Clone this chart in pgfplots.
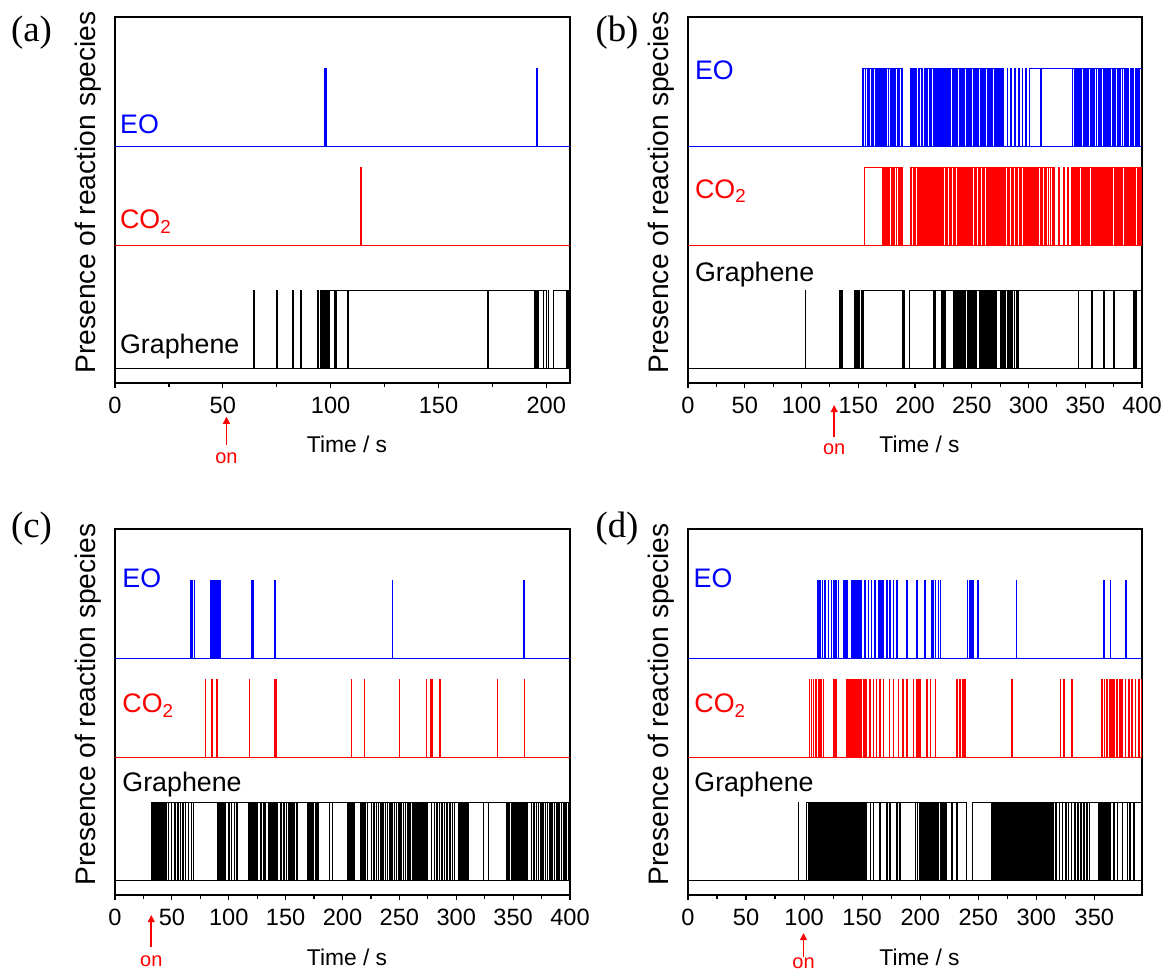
\documentclass[border=0pt]{standalone}
\usepackage{fontspec}
\setmainfont{Liberation Sans}
\newfontfamily\serifpanel{Liberation Serif}
\usepackage{pgfplots}
\pgfplotsset{compat=1.18}
\usetikzlibrary{arrows.meta}
\definecolor{eoblue}{RGB}{0,0,255}
\definecolor{cored}{RGB}{255,0,0}
\pgfplotsset{
  panel/.style={
    scale only axis, height=183pt,
    ymin=0, ymax=366, ytick=\empty,
    xtick pos=left, tick align=outside,
    minor x tick num=1,
    major tick length=2.5pt, minor tick length=1.8pt,
    axis line style={line width=0.6pt},
    every tick/.style={black, line width=0.6pt},
    /pgf/number format/assume math mode=true,
    xticklabel style={font=\fontsize{11.8}{13}\selectfont, yshift=-1.2pt},
    xlabel={Time / s},
    xlabel style={font=\fontsize{11.4}{13}\selectfont, at={(axis description cs:0.51,0)}, anchor=base, yshift=-35pt},
    ylabel={Presence of reaction species},
    ylabel style={font=\fontsize{14.1}{16}\selectfont, at={(axis description cs:-0.058,0.521)}, anchor=center},
    clip=false,
  },
  eo/.style={const plot, line width=0.45pt, color=eoblue, y filter/.expression={237+78*y}},
  co/.style={const plot, line width=0.45pt, color=cored, y filter/.expression={138+78*y}},
  gr/.style={const plot, line width=0.45pt, color=black, y filter/.expression={14.5+78*y}},
}
\tikzset{lab/.style={anchor=base west, inner sep=0pt, font=\fontsize{13.4}{16}\selectfont}}
\newcommand{\onarrow}[4]{%
  \draw[cored, line width=0.9pt, -{Triangle[length=3.6pt,width=3.4pt]}] ([yshift=-#3]axis cs:#1,0) -- ([yshift=-#2]axis cs:#1,0);
  \node[text=cored, font=\fontsize{10}{11}\selectfont, anchor=base, inner sep=0pt] at ([yshift=-#4]axis cs:#1,0) {on};}
\begin{document}
\begin{tikzpicture}
\useasboundingbox (0,0) rectangle (581pt,485pt);
% ---------------- (a)
\begin{axis}[panel, at={(57.5pt,293.5pt)}, anchor=south west, width=227.5pt,
  xmin=0, xmax=211, xtick={0,50,100,150,200}]
\addplot[eo] coordinates {(0,0)(211,0)};
\addplot[eo] coordinates {(0,0)(97.3,1)(97.6,0)(97.9,1)(98.2,0)(195.4,1)(195.8,0)(211,0)};
\addplot[co] coordinates {(0,0)(211,0)};
\addplot[co] coordinates {(0,0)(113.9,1)(114.3,0)(211,0)};
\addplot[gr] coordinates {(0,0)(211,0)};
\addplot[gr] coordinates {(0,0)(64.2,1)(64.5,0)(75.0,1)(75.3,0)(82.4,1)(82.7,0)(86.0,1)(86.3,0)(93.9,1)(94.2,0)(95.4,1)(95.8,0)(96.2,1)(96.5,0)(96.9,1)(97.1,0)(97.5,1)(97.8,0)(98.2,1)(98.4,0)(98.8,1)(99.1,0)(99.5,1)(101.6,0)(101.9,1)(102.4,0)(102.7,1)(108.0,0)(108.3,1)(172.9,0)(173.2,1)(194.4,0)(194.7,1)(195.2,0)(195.5,1)(196.1,0)(196.4,1)(198.5,0)(198.8,1)(200.3,0)(201.0,1)(201.2,0)(203.4,1)(209.4,0)(209.6,1)(209.9,0)(210.3,1)(211,1)};
\node[lab, text=eoblue] at (axis cs:2.2,249.7) {EO};
\node[lab, text=cored] at (axis cs:2.2,154) {CO\textsubscript{2}};
\node[lab, text=black] at (axis cs:2.2,29.7) {Graphene};
\onarrow{51.7}{16.8pt}{31pt}{40.2pt}
\end{axis}
% ---------------- (b)
\begin{axis}[panel, at={(344pt,293.5pt)}, anchor=south west, width=227pt,
  xmin=0, xmax=400, xtick={0,50,...,400}]
\addplot[eo] coordinates {(0,0)(400,0)};
\addplot[eo] coordinates {(0,0)(153.8,1)(154.4,0)(154.8,1)(156.2,0)(156.6,1)(157.9,0)(158.3,1)(159.0,0)(160.1,1)(161.5,0)(162.0,1)(162.9,0)(163.4,1)(164.8,0)(165.2,1)(166.1,0)(166.8,1)(168.0,0)(168.5,1)(169.3,0)(170.1,1)(171.6,0)(172.0,1)(173.2,0)(173.8,1)(174.5,0)(175.0,1)(176.3,0)(176.9,1)(178.1,0)(178.5,1)(179.4,0)(180.0,1)(181.2,0)(181.7,1)(182.5,0)(183.2,1)(184.6,0)(185.1,1)(186.0,0)(186.6,1)(187.8,0)(188.3,1)(189.3,0)
(195.6,1)(196.4,0)(196.9,1)(198.0,0)(198.6,1)(199.2,0)(200.5,1)(201.3,0)(202.8,1)(203.6,0)(204.3,1)(205.5,0)(206.1,1)(206.8,0)(207.9,1)(209.0,0)(209.6,1)(210.4,0)(211.3,1)(212.5,0)(213.0,1)(213.8,0)(214.6,1)(215.9,0)(216.4,1)(217.3,0)(217.9,1)(219.0,0)(219.5,1)(220.6,0)(221.1,1)(221.8,0)(222.4,1)(223.5,0)(224.0,1)(225.2,0)(225.7,1)(226.5,0)(227.1,1)(228.0,0)(228.6,1)(229.7,0)(230.2,1)(231.0,0)(231.6,1)(232.8,0)(233.3,1)(234.1,0)(234.7,1)(235.9,0)(236.4,1)(237.2,0)(237.8,1)(238.9,0)(239.4,1)(240.3,0)(240.9,1)(242.0,0)(242.5,1)(243.3,0)(243.9,1)(245.0,0)(245.5,1)(246.4,0)(247.0,1)(248.1,0)(248.6,1)(249.4,0)(250.0,1)(251.2,0)(251.7,1)(252.5,0)(253.1,1)(254.2,0)(254.7,1)(255.6,0)(256.2,1)(257.3,0)(257.8,1)(258.6,0)(259.2,1)(260.4,0)(260.9,1)(261.7,0)(262.3,1)(263.4,0)(263.9,1)(264.8,0)(265.4,1)(266.5,0)(267.0,1)(267.8,0)(268.4,1)(269.6,0)(270.1,1)(270.9,0)(271.5,1)(272.6,0)(273.1,1)(274.0,0)(274.6,1)(275.7,0)(276.2,1)(277.0,0)(277.6,1)(278.3,0)
(281.2,1)(281.8,0)(284.5,1)(285.0,0)(288.0,1)(288.9,0)(291.5,1)(292.0,0)(294.3,1)(295.0,0)(297.6,1)(298.4,0)(300.5,1)(310.8,0)(311.2,1)
(338.3,0)(339.0,1)(340.1,0)(340.6,1)(341.8,0)(342.3,1)(343.0,0)(343.7,1)(344.9,0)(345.4,1)(346.2,0)(346.9,1)(348.0,0)(348.5,1)(349.3,0)(350.0,1)(351.2,0)(351.7,1)(352.5,0)(353.2,1)(354.4,0)(354.9,1)(355.7,0)(356.4,1)(357.5,0)(358.2,1)(359.6,0)(360.3,1)(361.5,0)(362.4,1)(363.3,0)(364.2,1)(365.6,0)(366.5,1)(367.4,0)(368.3,1)(369.8,0)(370.6,1)(371.5,0)(372.6,1)(374.0,0)(374.8,1)(375.7,0)(376.8,1)(378.1,0)(379.0,1)(379.9,0)(381.0,1)(382.4,0)(383.2,1)(384.1,0)(385.3,1)(386.6,0)(387.5,1)(388.4,0)(389.6,1)(391.0,0)(391.8,1)(392.7,0)(393.9,1)(395.2,0)(396.0,1)(397.1,0)(397.6,1)(400,1)};
\addplot[co] coordinates {(0,0)(400,0)};
\addplot[co] coordinates {(0,0)(155.3,1)(171.5,0)(172.3,1)(173.1,0)(173.8,1)(175.2,0)(175.9,1)(177.0,0)(177.8,1)(179.3,0)(180.1,1)(181.0,0)(181.9,1)(183.4,0)(184.0,1)(185.2,0)(186.1,1)(187.4,0)(188.3,1)(189.0,0)
(195.7,1)(196.5,0)(197.0,1)(198.3,0)(198.8,1)(199.6,0)(200.3,1)(201.8,0)(202.4,1)(203.2,0)(203.9,1)(205.1,0)(205.7,1)(206.5,0)(207.2,1)(208.6,0)(209.2,1)(210.0,0)(210.7,1)(212.0,0)(212.6,1)(213.5,0)(214.2,1)(215.6,0)(216.3,1)(217.1,0)(217.8,1)(219.2,0)(219.8,1)(220.7,0)(221.4,1)(222.8,0)(223.5,1)(224.3,0)(225.0,1)(226.5,0)(227.1,1)(228.0,0)(228.8,1)(230.1,0)(230.7,1)(231.6,0)(232.3,1)(233.8,0)(234.4,1)(235.3,0)(236.0,1)(237.4,0)(238.0,1)(238.9,0)(239.7,1)(241.1,0)(241.7,1)(242.6,0)(243.4,1)(244.7,0)(245.3,1)(246.2,0)(247.0,1)(248.4,0)(249.0,1)(249.8,0)(250.6,1)(252.0,0)(252.6,1)(253.5,0)(254.3,1)(255.6,0)(256.2,1)(257.1,0)(257.9,1)(259.3,0)(259.9,1)(260.7,0)(261.5,1)(262.9,0)(263.5,1)(264.4,0)(265.2,1)(266.5,0)(267.1,1)(268.0,0)(268.8,1)(270.2,0)(270.8,1)(271.6,0)(272.4,1)(273.8,0)(274.4,1)(275.3,0)(276.1,1)(277.4,0)(278.0,1)(278.9,0)(279.7,1)(281.1,0)(281.7,1)(282.5,0)(283.3,1)(284.7,0)(285.3,1)(286.2,0)(287.0,1)(288.3,0)(288.9,1)(289.8,0)(290.6,1)(292.0,0)(292.6,1)(293.4,0)(294.2,1)(295.6,0)(296.2,1)(297.1,0)(297.9,1)(299.2,0)(299.8,1)(300.7,0)(301.5,1)(302.9,0)(303.5,1)(304.3,0)(305.1,1)(306.5,0)(307.1,1)(308.0,0)(308.8,1)(310.1,0)(310.7,1)(311.6,0)(312.4,1)(313.8,0)(314.4,1)(315.2,0)(316.0,1)(317.4,0)(318.0,1)(318.9,0)(319.7,1)(321.0,0)(321.6,1)(322.5,0)
(326.5,1)(327.2,0)(330.8,1)(331.4,0)(334.6,1)(335.5,0)
(338.2,1)(339.0,0)(339.5,1)(340.6,0)(341.1,1)(341.8,0)(342.4,1)(343.5,0)(344.0,1)(344.7,0)(345.3,1)(346.4,0)(346.9,1)(347.6,0)(348.2,1)(349.3,0)(349.8,1)(350.5,0)(351.1,1)(352.2,0)(352.7,1)(353.4,0)(354.0,1)(355.1,0)(355.6,1)(356.3,0)(356.9,1)(358.0,0)(358.5,1)(359.2,0)(359.8,1)(360.9,0)(361.4,1)(362.1,0)(362.7,1)(363.8,0)(364.3,1)(365.0,0)(365.6,1)(366.7,0)(367.2,1)(367.9,0)(368.5,1)(369.6,0)(370.1,1)(370.8,0)(371.4,1)(372.5,0)(373.0,1)(373.7,0)(374.3,1)(375.4,0)(375.9,1)(376.6,0)(377.2,1)(378.3,0)(378.8,1)(379.5,0)(380.1,1)(381.2,0)(381.7,1)(382.4,0)(383.0,1)(384.1,0)(384.6,1)(385.3,0)(385.9,1)(387.0,0)(387.5,1)(388.2,0)(388.8,1)(389.9,0)(390.4,1)(391.1,0)(391.7,1)(392.8,0)(393.3,1)(394.0,0)(394.6,1)(395.7,0)(396.2,1)(396.9,0)(397.5,1)(398.6,0)(399.1,1)(400,1)};
\addplot[gr] coordinates {(0,0)(400,0)};
\addplot[gr] coordinates {(0,0)(103.2,1)(103.6,0)(133.2,1)(133.6,0)(134.4,1)(134.8,0)(135.6,1)(136.2,0)(147.0,1)(147.5,0)(148.2,1)(148.8,0)(149.5,1)(150.1,0)(150.8,1)(151.3,0)(152.4,1)(153.0,0)(153.8,1)(154.4,0)(155.0,1)
(188.8,0)(189.3,1)(189.9,0)(190.5,1)(191.0,0)(195.4,1)
(216.0,0)(216.4,1)(217.3,0)(217.8,1)(223.5,0)(223.9,1)(225.3,0)(225.7,1)(226.6,0)(227.0,1)
(234.0,0)(234.5,1)(235.4,0)(235.9,1)(236.9,0)(237.5,1)(238.2,0)(238.8,1)(239.9,0)(240.4,1)(241.2,0)(241.9,1)(243.0,0)(243.5,1)(244.2,0)(244.8,1)(245.9,0)(246.5,1)(247.3,0)(247.8,1)(248.9,0)(249.4,1)(250.1,0)(250.8,1)(251.9,0)(252.4,1)(253.2,0)(253.8,1)
(257.2,0)(257.8,1)(258.5,0)(259.1,1)(260.3,0)(260.8,1)(261.6,0)(262.2,1)(263.3,0)(263.8,1)(264.6,0)(265.2,1)(266.3,0)(266.8,1)(267.6,0)(268.2,1)(269.3,0)(269.8,1)(270.6,0)(271.4,1)
(275.0,0)(275.6,1)(276.4,0)(277.0,1)(278.1,0)(278.6,1)(279.4,0)(280.0,1)(281.1,0)(281.6,1)(282.4,0)(283.0,1)(284.1,0)(284.6,1)(285.4,0)(286.0,1)(287.3,0)(287.9,1)(289.2,0)(289.8,1)(290.6,0)(291.2,1)
(344.0,0)(344.4,1)(355.8,0)(356.2,1)(366.1,0)(366.5,1)(375.0,0)(375.4,1)(392.5,0)(392.9,1)(393.5,0)(393.9,1)(394.4,0)(395.0,1)(400,1)};
\node[lab, text=eoblue] at (axis cs:5.9,303) {EO};
\node[lab, text=cored] at (axis cs:5.9,184.7) {CO\textsubscript{2}};
\node[lab, text=black] at (axis cs:5.9,101.3) {Graphene};
\onarrow{128.8}{11pt}{27pt}{36pt}
\end{axis}
% ---------------- (c)
\begin{axis}[panel, at={(57.5pt,37.5pt)}, anchor=south west, width=227.5pt,
  xmin=0, xmax=400, xtick={0,50,...,400}]
\addplot[eo] coordinates {(0,0)(400,0)};
\addplot[eo] coordinates {(0,0)(66.5,1)(66.9,0)(68.1,1)(68.5,0)(69.6,1)(70.2,0)(84.3,1)(84.7,0)(85.3,1)(85.9,0)(86.4,1)(86.8,0)(87.5,1)(88.0,0)(88.8,1)(89.2,0)(90.0,1)(90.6,0)(91.2,1)(91.9,0)(92.3,1)(92.7,0)(119.8,1)(120.2,0)(120.8,1)(121.3,0)(140.5,1)(140.9,0)(243.6,1)(244.0,0)(359.5,1)(359.9,0)(400,0)};
\addplot[co] coordinates {(0,0)(400,0)};
\addplot[co] coordinates {(0,0)(79.5,1)(79.9,0)(85.0,1)(85.6,0)(89.2,1)(89.7,0)(117.9,1)(118.3,0)(140.4,1)(140.9,0)(141.3,1)(141.7,0)(207.7,1)(208.2,0)(218.9,1)(219.3,0)(249.9,1)(250.3,0)(273.8,1)(274.2,0)(277.5,1)(277.9,0)(278.3,1)(278.8,0)(285.4,1)(285.8,0)(336.1,1)(336.5,0)(359.6,1)(360.0,0)(400,0)};
\addplot[gr] coordinates {(0,0)(400,0)};
\addplot[gr] coordinates {(0,0)(32.4,1)(33.0,0)(33.5,1)(34.3,0)(34.8,1)(35.4,0)(36.0,1)(36.9,0)(37.3,1)(38.0,0)(38.6,1)(39.4,0)(39.9,1)(40.5,0)(41.1,1)(42.0,0)(42.4,1)(43.1,0)(43.7,1)(44.3,0)(44.8,1)(46.6,0)(47.1,1)(49.6,0)(50.0,1)(52.5,0)(52.9,1)(55.3,0)(55.7,1)(57.2,0)(57.8,1)(59.5,0)(59.9,1)(61.8,0)(62.2,1)(64.4,0)(64.8,1)(66.9,0)(67.4,1)(68.8,0)(69.3,1)
(89.7,0)(90.2,1)(90.8,0)(91.4,1)(92.2,0)(92.7,1)(93.4,0)(94.0,1)(94.8,0)(95.3,1)(96.1,0)(96.7,1)(99.8,0)(100.3,1)(102.0,0)(102.4,1)(104.8,0)(105.2,1)(107.0,0)(107.5,1)
(117.6,0)(118.1,1)(118.9,0)(119.4,1)(120.3,0)(120.8,1)(121.6,0)(122.2,1)(123.0,0)(123.5,1)(124.4,0)(124.9,1)(128.0,0)(128.5,1)(130.4,0)(130.9,1)(131.8,0)(132.3,1)(135.0,0)(135.5,1)(136.3,0)(136.9,1)(137.7,0)(138.2,1)(139.1,0)(139.6,1)(140.5,0)(141.0,1)(141.9,0)(142.5,1)(145.6,0)(146.0,1)(148.3,0)(148.7,1)(150.6,0)(151.0,1)(152.9,0)(153.3,1)(154.2,0)(154.7,1)(156.0,0)(156.5,1)(157.3,0)(157.8,1)(159.4,0)(160.0,1)
(169.0,0)(169.5,1)(170.3,0)(170.8,1)(171.7,0)(172.2,1)(173.0,0)(173.6,1)(174.4,0)(174.9,1)(175.8,0)(176.3,1)(177.1,0)(177.7,1)(178.6,0)(179.2,1)
(188.2,0)(188.6,1)(191.1,0)(191.5,1)
(204.4,0)(204.9,1)(205.7,0)(206.2,1)(207.1,0)(207.6,1)(208.5,0)(209.0,1)(209.8,0)(210.3,1)
(216.0,0)(216.5,1)(217.3,0)(217.8,1)(218.7,0)(219.2,1)(220.1,0)(220.6,1)(221.5,0)(222.0,1)
(225.2,0)(225.6,1)(227.4,0)(227.9,1)(229.6,0)(230.0,1)(231.3,0)(231.8,1)(233.5,0)(234.0,1)(235.4,0)(235.8,1)(237.6,0)(238.1,1)(239.2,0)(239.7,1)(241.5,0)(241.9,1)(243.3,0)(243.8,1)(245.4,0)(245.9,1)(247.1,0)(247.6,1)(249.3,0)(249.7,1)(251.2,0)(251.7,1)(253.4,0)(253.8,1)(255.0,0)(255.5,1)(257.2,0)(257.7,1)(259.1,0)(259.6,1)
(261.8,0)(262.3,1)(263.1,0)(263.6,1)(264.5,0)(265.0,1)(265.8,0)(266.4,1)(267.2,0)(267.7,1)(268.6,0)(269.1,1)(270.0,0)(270.5,1)(271.3,0)(271.9,1)(272.7,0)(273.2,1)(274.1,0)(274.7,1)
(278.0,0)(278.5,1)(280.6,0)(281.0,1)(282.7,0)(283.2,1)(285.0,0)(285.4,1)(287.3,0)(287.8,1)(289.6,0)(290.0,1)(291.8,0)(292.3,1)(294.1,0)(294.6,1)(296.5,0)(297.0,1)(298.2,0)(298.7,1)
(301.5,0)(302.0,1)(302.8,0)(303.3,1)(304.2,0)(304.7,1)(305.6,0)(306.1,1)(306.9,0)(307.5,1)(308.4,0)(308.9,1)(309.7,0)(310.3,1)
(323.5,0)(323.9,1)(328.0,0)(328.4,1)
(344.0,0)(344.5,1)(345.3,0)(345.8,1)(346.7,0)(347.2,1)(348.1,0)(348.6,1)(349.4,0)(350.0,1)(350.8,0)(351.3,1)(352.2,0)(352.7,1)(353.6,0)(354.1,1)(354.9,0)(355.5,1)(356.3,0)(356.8,1)(357.7,0)(358.2,1)(359.1,0)(359.6,1)(360.4,0)(361.0,1)(361.8,0)(362.4,1)
(366.0,0)(366.5,1)(368.2,0)(368.6,1)(370.3,0)(370.8,1)(372.0,0)(372.5,1)(374.1,0)(374.6,1)(376.2,0)(376.7,1)(378.0,0)(378.5,1)(380.1,0)(380.6,1)(382.3,0)(382.8,1)(384.0,0)(384.5,1)(386.2,0)(386.7,1)(388.3,0)(388.8,1)(390.1,0)(390.6,1)(392.2,0)(392.7,1)(394.4,0)(394.9,1)(396.1,0)(396.6,1)(398.3,0)(398.8,1)(400,1)};
\node[lab, text=eoblue] at (axis cs:6.2,307.7) {EO};
\node[lab, text=cored] at (axis cs:6.2,182.3) {CO\textsubscript{2}};
\node[lab, text=black] at (axis cs:6.2,103.3) {Graphene};
\onarrow{31.9}{10pt}{26pt}{35.8pt}
\end{axis}
% ---------------- (d)
\begin{axis}[panel, at={(344pt,37.5pt)}, anchor=south west, width=227pt,
  xmin=0, xmax=391, xtick={0,50,...,350}]
\addplot[eo] coordinates {(0,0)(391,0)};
\addplot[eo] coordinates {(0,0)(111.6,1)(112.0,0)(113.5,1)(113.9,0)(115.8,1)(116.2,0)(117.8,1)(118.2,0)(120.7,1)(121.1,0)(123.5,1)(123.9,0)(125.5,1)(125.9,0)(127.3,1)(127.7,0)(129.3,1)(129.7,0)(133.6,1)(134.0,0)(134.6,1)(135.1,0)(135.6,1)(136.0,0)(136.5,1)(136.9,0)(140.8,1)(141.2,0)(142.2,1)(142.6,0)(143.3,1)(143.8,0)(144.3,1)(144.7,0)(145.1,1)(145.5,0)(146.5,1)(146.9,0)(147.5,1)(148.0,0)(148.4,1)(148.8,0)(149.4,1)(149.8,0)(152.3,1)(152.7,0)(155.2,1)(155.6,0)(158.0,1)(158.4,0)(160.9,1)(161.3,0)(163.8,1)(164.2,0)(164.8,1)(165.3,0)(165.8,1)(166.2,0)(166.7,1)(167.1,0)(168.1,1)(168.5,0)(171.0,1)(171.4,0)(173.8,1)(174.2,0)(176.7,1)(177.1,0)(179.6,1)(180.0,0)(188.2,1)(188.6,0)(196.9,1)(197.3,0)(204.0,1)(204.4,0)(209.8,1)(210.2,0)(211.2,1)(211.6,0)(212.7,1)(213.1,0)(215.5,1)(215.9,0)(217.0,1)(217.4,0)(240.6,1)(241.0,0)(242.8,1)(243.2,0)(243.8,1)(244.2,0)(245.2,1)(245.6,0)(249.5,1)(249.9,0)(282.5,1)(282.9,0)(357.9,1)(358.3,0)(363.6,1)(364.0,0)(377.1,1)(377.5,0)(391,0)};
\addplot[co] coordinates {(0,0)(391,0)};
\addplot[co] coordinates {(0,0)(104.3,1)(104.7,0)(106.3,1)(106.7,0)(107.7,1)(108.1,0)(110.0,1)(110.4,0)(112.0,1)(112.4,0)(113.5,1)(113.9,0)(114.9,1)(115.3,0)(116.3,1)(116.7,0)(125.0,1)(125.4,0)(126.4,1)(126.8,0)(127.3,1)(127.7,0)(136.5,1)(136.9,0)(137.9,1)(138.3,0)(139.3,1)(139.7,0)(140.8,1)(141.2,0)(142.2,1)(142.6,0)(143.7,1)(144.1,0)(145.1,1)(145.5,0)(146.5,1)(146.9,0)(148.0,1)(148.4,0)(149.4,1)(149.8,0)(150.8,1)(151.2,0)(152.3,1)(152.7,0)(153.7,1)(154.1,0)(156.6,1)(157.0,0)(159.5,1)(159.9,0)(162.3,1)(162.7,0)(165.2,1)(165.6,0)(168.1,1)(168.5,0)(173.3,1)(173.7,0)(176.7,1)(177.1,0)(181.0,1)(181.4,0)(184.8,1)(185.2,0)(188.2,1)(188.6,0)(194.0,1)(194.4,0)(196.9,1)(197.3,0)(198.3,1)(198.7,0)(199.7,1)(200.1,0)(205.5,1)(205.9,0)(208.4,1)(208.8,0)(212.7,1)(213.1,0)(231.4,1)(231.8,0)(234.2,1)(234.6,0)(236.5,1)(236.9,0)(238.5,1)(238.9,0)(278.8,1)(279.3,0)(320.5,1)(320.9,0)(323.4,1)(323.8,0)(330.5,1)(330.9,0)(356.4,1)(356.8,0)(358.4,1)(358.8,0)(360.7,1)(361.1,0)(363.0,1)(363.4,0)(365.1,1)(365.5,0)(366.5,1)(366.9,0)(369.4,1)(369.8,0)(371.7,1)(372.1,0)(373.7,1)(374.1,0)(376.6,1)(377.0,0)(379.4,1)(379.8,0)(382.3,1)(382.7,0)(385.2,1)(385.6,0)(388.1,1)(388.5,0)(390.1,1)(390.5,0)(391,0)};
\addplot[gr] coordinates {(0,0)(391,0)};
\addplot[gr] coordinates {(0,0)(94.8,1)(95.2,0)(102.1,1)
(104.0,0)(104.5,1)(105.8,0)(106.3,1)(107.1,0)(107.6,1)(108.3,0)(108.9,1)(109.7,0)(110.2,1)(111.1,0)(111.6,1)(112.4,0)(113.0,1)(113.8,0)(114.3,1)(115.2,0)(115.7,1)(116.5,0)(117.1,1)(117.9,0)(118.4,1)(119.3,0)(119.8,1)(120.6,0)(121.2,1)(122.0,0)(122.5,1)(123.4,0)(123.9,1)(124.7,0)(125.3,1)(126.1,0)(126.6,1)(127.5,0)(128.0,1)(128.8,0)(129.4,1)(130.2,0)(130.7,1)(131.6,0)(132.1,1)(132.9,0)(133.5,1)(134.3,0)(134.8,1)(135.7,0)(136.2,1)(137.0,0)(137.6,1)(138.4,0)(138.9,1)(139.8,0)(140.3,1)(141.1,0)(141.7,1)(142.5,0)(143.0,1)(143.9,0)(144.4,1)(145.2,0)(145.8,1)(146.6,0)(147.1,1)(148.0,0)(148.5,1)(149.3,0)(149.9,1)(150.7,0)(151.2,1)(152.1,0)(152.6,1)(153.4,0)(154.0,1)
(156.7,0)(157.1,1)(159.6,0)(160.0,1)(165.3,0)(165.7,1)(171.0,0)(171.4,1)(173.9,0)(174.3,1)(179.7,0)(180.1,1)(182.5,0)(182.9,1)
(195.5,0)(196.0,1)(197.3,0)(197.8,1)(199.2,0)(199.7,1)
(200.6,0)(201.1,1)(201.9,0)(202.5,1)(203.3,0)(203.8,1)(204.7,0)(205.2,1)(206.0,0)(206.6,1)(207.4,0)(207.9,1)(208.8,0)(209.3,1)(210.1,0)(210.7,1)(211.5,0)(212.0,1)(212.9,0)(213.4,1)(214.2,0)(214.8,1)(215.6,0)(216.1,1)(217.0,0)(217.5,1)(218.3,0)(218.9,1)(219.7,0)(220.2,1)(221.1,0)(221.6,1)(222.4,0)(223.0,1)
(227.3,0)(227.7,1)(231.6,0)(232.0,1)(240.2,0)(245.3,1)
(261.6,0)(262.1,1)(262.9,0)(263.4,1)(264.2,0)(264.8,1)(265.6,0)(266.1,1)(266.9,0)(267.5,1)(268.3,0)(268.8,1)(269.6,0)(270.2,1)(271.0,0)(271.5,1)(272.3,0)(272.9,1)(273.7,0)(274.2,1)(275.0,0)(275.6,1)(276.4,0)(276.9,1)(277.7,0)(278.3,1)(279.1,0)(279.6,1)(280.4,0)(281.0,1)(281.8,0)(282.3,1)(283.1,0)(283.7,1)(284.5,0)(285.0,1)(285.8,0)(286.4,1)(287.2,0)(287.7,1)(288.5,0)(289.1,1)(289.9,0)(290.4,1)(291.2,0)(291.8,1)(292.6,0)(293.1,1)(293.9,0)(294.5,1)(295.3,0)(295.8,1)(296.6,0)(297.2,1)(298.0,0)(298.5,1)(299.3,0)(299.9,1)(300.7,0)(301.2,1)(302.0,0)(302.6,1)(303.4,0)(303.9,1)(304.7,0)(305.3,1)(306.1,0)(306.6,1)(307.4,0)(308.0,1)(308.8,0)(309.3,1)(310.1,0)(310.7,1)(311.5,0)(312.0,1)(312.8,0)(313.4,1)(314.2,0)(314.8,1)
(316.8,0)(317.2,1)(319.5,0)(319.9,1)(322.3,0)(322.7,1)(325.1,0)(325.5,1)(327.4,0)(327.8,1)(330.2,0)(330.6,1)(333.0,0)(333.4,1)(335.8,0)(336.2,1)(338.1,0)(338.5,1)(340.9,0)(341.3,1)(343.5,0)(343.9,1)(345.6,0)(346.0,1)
(353.7,0)(354.2,1)(355.0,0)(355.5,1)(356.4,0)(356.9,1)(357.7,0)(358.3,1)(359.1,0)(359.6,1)(360.5,0)(361.0,1)(361.8,0)(362.4,1)(363.2,0)(363.7,1)
(366.6,0)(367.0,1)(369.5,0)(369.9,1)(373.8,0)(374.2,1)(378.1,0)(378.5,1)(380.5,0)(380.9,1)(383.8,0)(384.2,1)(391,1)};
\node[lab, text=eoblue] at (axis cs:4.5,307.7) {EO};
\node[lab, text=cored] at (axis cs:5.2,182.3) {CO\textsubscript{2}};
\node[lab, text=black] at (axis cs:5.2,103.3) {Graphene};
\onarrow{99.5}{19pt}{31pt}{36.5pt}
\end{axis}
% panel letters
\node[font=\serifpanel\fontsize{18.4}{20}\selectfont, anchor=base] at (15.75pt,464.15pt) {(a)};
\node[font=\serifpanel\fontsize{18.4}{20}\selectfont, anchor=base] at (308.5pt,464.15pt) {(b)};
\node[font=\serifpanel\fontsize{18.4}{20}\selectfont, anchor=base] at (15.75pt,216pt) {(c)};
\node[font=\serifpanel\fontsize{18.4}{20}\selectfont, anchor=base] at (308.5pt,216pt) {(d)};
\end{tikzpicture}
\end{document}
